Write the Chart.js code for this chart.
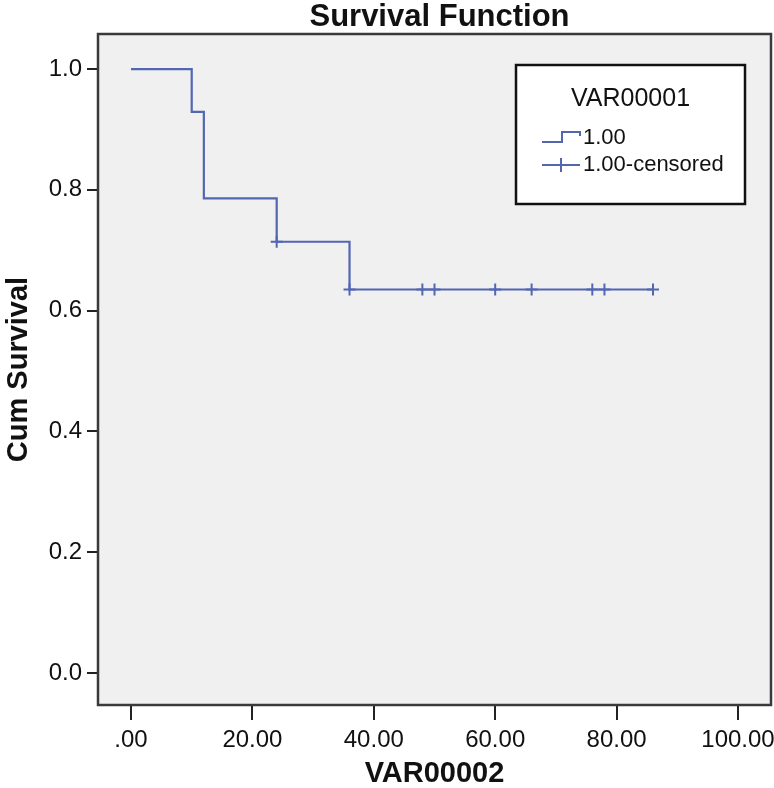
<!DOCTYPE html>
<html>
<head>
<meta charset="utf-8">
<script src="https://cdn.jsdelivr.net/npm/chart.js@4.4.1/dist/chart.umd.min.js"></script>
<style>
  html, body { margin: 0; padding: 0; background: #ffffff; }
  #wrap { width: 774px; height: 788px; }
</style>
</head>
<body>
<div id="wrap"><canvas id="c" width="774" height="788"></canvas></div>
<script>
// ---- data ----
const eventTimes    = [0, 10, 12, 24, 36, 86];
const eventSurvival = [1.0, 0.929, 0.786, 0.714, 0.635, 0.635];
const censorTimes    = [24, 36, 48, 50, 60, 66, 76, 78, 86];
const censorSurvival = [0.714, 0.635, 0.635, 0.635, 0.635, 0.635, 0.635, 0.635, 0.635];
const xTickValues = [0, 20, 40, 60, 80, 100];
const xTickLabels = ['.00', '20.00', '40.00', '60.00', '80.00', '100.00'];
const yTickValues = [0, 0.2, 0.4, 0.6, 0.8, 1.0];
const yTickLabels = ['0.0', '0.2', '0.4', '0.6', '0.8', '1.0'];
const chartTitle = 'Survival Function';
const legendTitle = 'VAR00001';
const seriesLabels = ['1.00', '1.00-censored'];

const LINE = '#5266b2';
const FONT = "'Liberation Sans', Arial, sans-serif";

const stepData = eventTimes.map((t, i) => ({ x: t, y: eventSurvival[i] }));
const censorData = censorTimes.map((t, i) => ({ x: t, y: censorSurvival[i] }));

const framePlugin = {
  id: 'frame',
  beforeDatasetsDraw(chart) {
    const { ctx, chartArea: a } = chart;
    ctx.save();
    ctx.fillStyle = '#f0f0f0';
    ctx.fillRect(a.left, a.top, a.right - a.left, a.bottom - a.top);
    ctx.restore();
  },
  afterDraw(chart) {
    const { ctx, chartArea: a } = chart;
    ctx.save();
    // frame
    ctx.strokeStyle = '#3a3a3a';
    ctx.lineWidth = 2.5;
    ctx.strokeRect(a.left, a.top, a.right - a.left, a.bottom - a.top);
    // title
    ctx.fillStyle = '#111';
    ctx.font = 'bold 31px ' + FONT;
    ctx.textAlign = 'center';
    ctx.textBaseline = 'middle';
    ctx.fillText(chartTitle, (a.left + a.right) / 2 + 5, 17);

    // legend box
    const bx = a.left + 418, by = a.top + 31, bw = 229, bh = 139;
    ctx.fillStyle = '#ffffff';
    ctx.fillRect(bx, by, bw, bh);
    ctx.strokeStyle = '#111';
    ctx.lineWidth = 2.5;
    ctx.strokeRect(bx, by, bw, bh);

    ctx.fillStyle = '#111';
    ctx.font = '25px ' + FONT;
    ctx.textAlign = 'center';
    ctx.fillText(legendTitle, bx + bw / 2, by + 34);

    // item 1: step icon
    const ix = bx + 26;
    const y1 = by + 73;
    ctx.strokeStyle = LINE;
    ctx.lineWidth = 2;
    ctx.beginPath();
    ctx.moveTo(ix, y1 + 4);
    ctx.lineTo(ix + 20, y1 + 4);
    ctx.lineTo(ix + 20, y1 - 6);
    ctx.lineTo(ix + 38, y1 - 6);
    ctx.lineTo(ix + 38, y1 - 2);
    ctx.stroke();
    ctx.fillStyle = '#111';
    ctx.font = '22px ' + FONT;
    ctx.textAlign = 'left';
    ctx.fillText(seriesLabels[0], ix + 41, y1);

    // item 2: censored icon
    const y2 = by + 100;
    ctx.beginPath();
    ctx.moveTo(ix, y2);
    ctx.lineTo(ix + 38, y2);
    ctx.moveTo(ix + 19, y2 - 7);
    ctx.lineTo(ix + 19, y2 + 7);
    ctx.stroke();
    ctx.fillText(seriesLabels[1], ix + 41, y2);
    ctx.restore();
  }
};

new Chart(document.getElementById('c'), {
  type: 'scatter',
  data: {
    datasets: [
      {
        label: seriesLabels[0],
        data: stepData,
        showLine: true,
        stepped: 'before',
        borderColor: LINE,
        borderWidth: 2.2,
        pointRadius: 0,
        fill: false
      },
      {
        label: seriesLabels[1],
        data: censorData,
        showLine: false,
        pointStyle: 'cross',
        pointRadius: 6,
        pointBorderWidth: 2,
        borderColor: LINE,
        backgroundColor: LINE
      }
    ]
  },
  options: {
    responsive: false,
    animation: false,
    devicePixelRatio: 1,
    layout: { autoPadding: false, padding: { top: 34, right: 3, left: 0, bottom: 0 } },
    plugins: {
      legend: { display: false },
      title: { display: false },
      tooltip: { enabled: false }
    },
    scales: {
      x: {
        type: 'linear',
        min: -5.44,
        max: 105.44,
        afterFit(s) { s.height = 83; s.paddingLeft = 0; s.paddingRight = 0; },
        afterBuildTicks(s) { s.ticks = xTickValues.map(v => ({ value: v })); },
        ticks: {
          includeBounds: false,
          autoSkip: false,
          maxRotation: 0,
          padding: 6,
          color: '#111',
          font: { family: FONT, size: 24 },
          callback: (v) => xTickLabels[xTickValues.indexOf(v)] ?? ''
        },
        grid: { drawOnChartArea: false, drawTicks: true, tickLength: 15, tickColor: '#222', lineWidth: 2 },
        border: { display: false },
        title: {
          display: true,
          text: 'VAR00002',
          color: '#111',
          font: { family: FONT, size: 29, weight: 'bold', lineHeight: 1 },
          padding: { top: 0, bottom: 0 }
        }
      },
      y: {
        type: 'linear',
        min: -0.053,
        max: 1.058,
        afterFit(s) { s.width = 98; s.paddingTop = 0; s.paddingBottom = 0; },
        afterBuildTicks(s) { s.ticks = yTickValues.map(v => ({ value: v })); },
        ticks: {
          includeBounds: false,
          autoSkip: false,
          padding: 5,
          color: '#111',
          font: { family: FONT, size: 24 },
          callback: (v) => {
            const i = yTickValues.findIndex(t => Math.abs(t - v) < 1e-9);
            return i >= 0 ? yTickLabels[i] : '';
          }
        },
        grid: { drawOnChartArea: false, drawTicks: true, tickLength: 11, tickColor: '#222', lineWidth: 2 },
        border: { display: false },
        title: {
          display: true,
          text: 'Cum Survival',
          color: '#111',
          font: { family: FONT, size: 29, weight: 'bold', lineHeight: 1 },
          padding: { top: 4, bottom: 0 }
        }
      }
    }
  },
  plugins: [framePlugin]
});
</script>
</body>
</html>
